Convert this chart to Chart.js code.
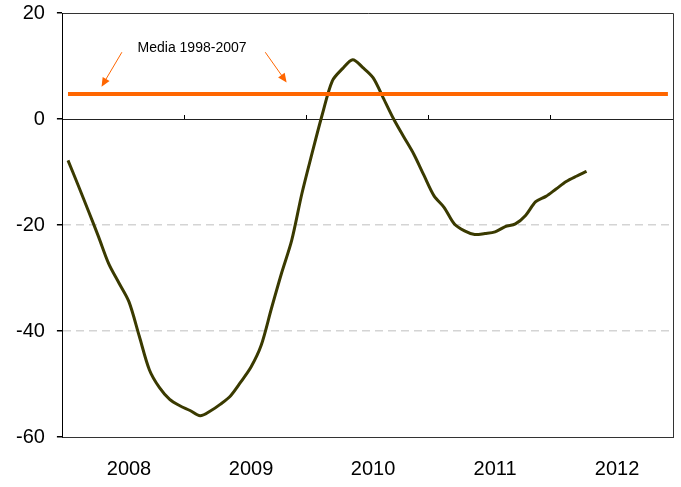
<!DOCTYPE html>
<html>
<head>
<meta charset="utf-8">
<script src="https://cdn.jsdelivr.net/npm/chart.js@4"></script>
<style>
  html, body { margin: 0; padding: 0; background: #fff; }
  #wrap { width: 681px; height: 487px; }
</style>
</head>
<body>
<div id="wrap"><canvas id="myChart" width="681" height="487"></canvas></div>
<script>
// years shown on the axis, one category per month
const years = ['2008', '2009', '2010', '2011', '2012'];
const months = ['01', '02', '03', '04', '05', '06', '07', '08', '09', '10', '11', '12'];

// monthly series, Jan 2008 - Apr 2012
const serie = [
    -7.8, -12.5, -17.3, -22.2, -27.3, -30.9, -34.5, -40.9, -47.3, -50.7, -52.9, -54.1,
    -55.0, -56.0, -55.1, -53.8, -52.2, -49.6, -46.8, -42.7, -35.8, -29.1, -22.9, -14.1,
    -6.5, 0.8, 7.2, 9.5, 11.2, 9.7, 7.8, 4.0, 0.1, -3.3, -6.6, -10.6,
    -14.5, -16.7, -19.8, -21.1, -21.8, -21.6, -21.3, -20.3, -19.8, -18.2, -15.6, -14.6,
    -13.2, -11.8, -10.8, -9.9
];

// average 1998-2007
const media = 4.7;
const mediaLabel = 'Media 1998-2007';

const yTicks = [20, 0, -20, -40, -60];

var labels = [];
years.forEach(function (y) {
    months.forEach(function (m) { labels.push(y + '-' + m); });
});

var font = "'Liberation Sans', Arial, sans-serif";

// frame + annotation with arrows
var extras = {
    id: 'extras',
    afterDraw: function (chart) {
        const ctx = chart.ctx;
        const area = chart.chartArea;
        const x = chart.scales.x, y = chart.scales.y;

        ctx.save();
        ctx.strokeStyle = '#333';
        ctx.lineWidth = 1;
        ctx.beginPath();
        ctx.moveTo(area.left, Math.round(area.top) + 0.5);
        ctx.lineTo(Math.round(area.right) + 0.5, Math.round(area.top) + 0.5);
        ctx.lineTo(Math.round(area.right) + 0.5, Math.round(area.bottom) + 0.5);
        ctx.stroke();

        // label
        ctx.fillStyle = '#000';
        ctx.font = '14px ' + font;
        ctx.textAlign = 'center';
        ctx.textBaseline = 'middle';
        ctx.fillText(mediaLabel, x.getPixelForValue(12.2), y.getPixelForValue(13.4));

        // arrows
        var arrows = [[5.3, 12.6, 3.3, 6.1], [19.4, 12.6, 21.5, 6.9]];
        ctx.strokeStyle = '#ff6600';
        ctx.fillStyle = '#ff6600';
        ctx.lineWidth = 1;
        arrows.forEach(function (a) {
            var x1 = x.getPixelForValue(a[0]), y1 = y.getPixelForValue(a[1]);
            var x2 = x.getPixelForValue(a[2]), y2 = y.getPixelForValue(a[3]);
            var ang = Math.atan2(y2 - y1, x2 - x1);
            ctx.beginPath();
            ctx.moveTo(x1, y1);
            ctx.lineTo(x2 - 5 * Math.cos(ang), y2 - 5 * Math.sin(ang));
            ctx.stroke();
            ctx.beginPath();
            ctx.moveTo(x2, y2);
            ctx.lineTo(x2 - 9 * Math.cos(ang) + 4 * Math.sin(ang), y2 - 9 * Math.sin(ang) - 4 * Math.cos(ang));
            ctx.lineTo(x2 - 9 * Math.cos(ang) - 4 * Math.sin(ang), y2 - 9 * Math.sin(ang) + 4 * Math.cos(ang));
            ctx.closePath();
            ctx.fill();
        });
        ctx.restore();
    }
};

var myChart = new Chart(document.getElementById('myChart'), {
    type: 'line',
    data: {
        labels: labels,
        datasets: [
            {
                label: mediaLabel,
                data: labels.map(function () { return media; }),
                borderColor: '#ff6600',
                borderWidth: 4,
                pointRadius: 0,
                fill: false
            },
            {
                label: 'serie',
                data: serie,
                borderColor: '#3a3a00',
                borderWidth: 3,
                pointRadius: 0,
                tension: 0.3,
                fill: false
            }
        ]
    },
    options: {
        responsive: false,
        animation: false,
        layout: {
            padding: { left: 4, right: 8, top: 13, bottom: -14 }
        },
        plugins: {
            legend: { display: false },
            tooltip: { enabled: false }
        },
        scales: {
            x: {
                type: 'category',
                position: 'bottom',
                offset: true,
                grid: { display: false, drawTicks: false },
                border: { display: true, color: '#333', width: 1 },
                afterFit: function (axis) {
                    axis.paddingLeft = 0;
                    axis.paddingRight = 0;
                },
                ticks: {
                    autoSkip: false,
                    maxRotation: 0,
                    padding: 20,
                    color: '#000',
                    font: { family: font, size: 20 },
                    callback: function (val, i) {
                        return i % 12 === 6 ? years[Math.floor(i / 12)] : '';
                    }
                }
            },
            x0: {
                type: 'category',
                position: { y: 0 },
                offset: true,
                grid: {
                    offset: true,
                    drawOnChartArea: false,
                    drawTicks: true,
                    tickLength: -5,
                    tickWidth: 1,
                    tickColor: function (c) {
                        return (c.index > 0 && c.index < 60 && c.index % 12 === 0) ? '#000' : 'rgba(0,0,0,0)';
                    }
                },
                border: { display: true, color: '#222', width: 1 },
                ticks: { display: false }
            },
            y: {
                min: -60,
                max: 20,
                afterBuildTicks: function (axis) {
                    axis.ticks = yTicks.map(function (v) { return { value: v }; });
                },
                afterFit: function (axis) {
                    axis.paddingTop = 0;
                    axis.paddingBottom = 0;
                },
                grid: {
                    color: function (c) {
                        var v = c.tick ? c.tick.value : null;
                        return (v === -20 || v === -40) ? '#d4d4d4' : 'rgba(0,0,0,0)';
                    },
                    lineWidth: 1.5,
                    tickColor: '#000',
                    tickLength: 6
                },
                border: { display: true, color: '#000', width: 1, dash: [8, 5] },
                ticks: {
                    padding: 12,
                    color: '#000',
                    font: { family: font, size: 20 }
                }
            }
        }
    },
    plugins: [extras]
});
</script>
</body>
</html>
